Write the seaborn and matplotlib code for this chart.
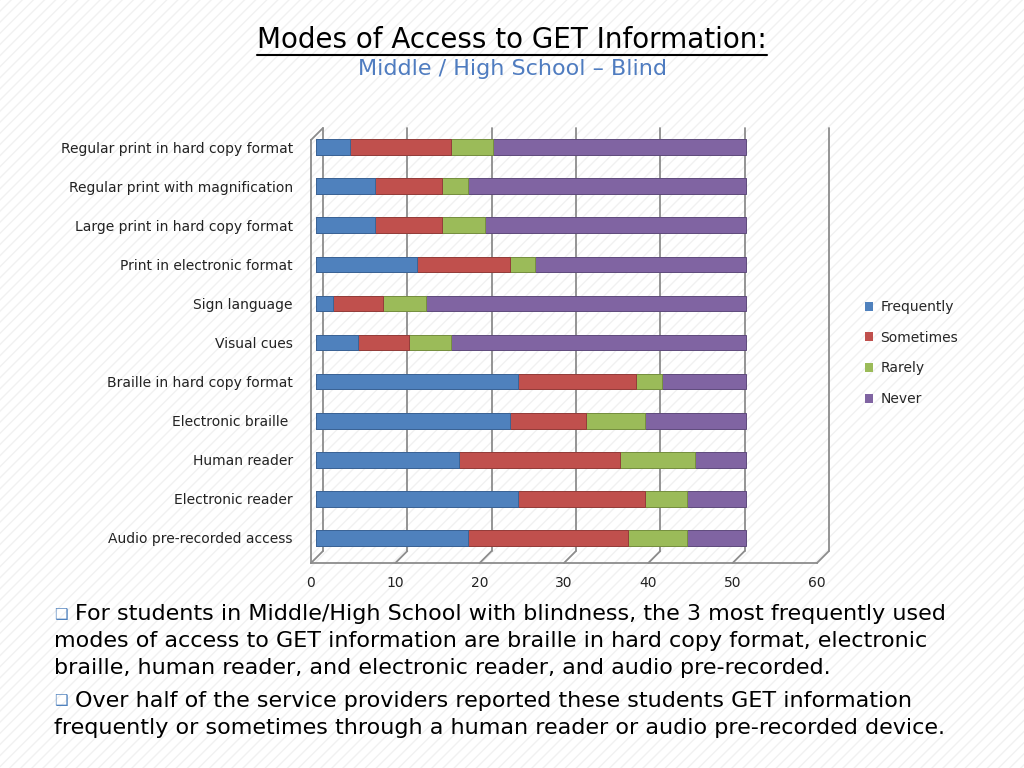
import numpy as np
import pandas as pd
import matplotlib
matplotlib.use('Agg')
import matplotlib.pyplot as plt
import seaborn as sns
from matplotlib.patches import Rectangle, Patch
from matplotlib.lines import Line2D
from matplotlib.transforms import ScaledTranslation, IdentityTransform

modes = ['Regular print in hard copy format', 'Regular print with magnification',
         'Large print in hard copy format', 'Print in electronic format',
         'Sign language', 'Visual cues', 'Braille in hard copy format',
         'Electronic braille ', 'Human reader', 'Electronic reader',
         'Audio pre-recorded access']
frequently = [4, 7, 7, 12, 2, 5, 24, 23, 17, 24, 18]
sometimes = [12, 8, 8, 11, 6, 6, 14, 9, 19, 15, 19]
rarely = [5, 3, 5, 3, 5, 5, 3, 7, 9, 5, 7]
never = [30, 33, 31, 25, 38, 35, 10, 12, 6, 7, 7]
levels = ['Frequently', 'Sometimes', 'Rarely', 'Never']
colors = ['#4F81BD', '#C0504D', '#9BBB59', '#8064A2']
edges = ['#3a6496', '#943c3a', '#76903f', '#5f4a7c']
x_ticks = [0, 10, 20, 30, 40, 50, 60]

df = pd.DataFrame({'mode': modes, 'Frequently': frequently, 'Sometimes': sometimes,
                   'Rarely': rarely, 'Never': never})
cum = df[levels].cumsum(axis=1)

sns.set_theme(style='white')
plt.rcParams['font.family'] = ['DejaVu Sans']

fig = plt.figure(figsize=(10.24, 7.68), dpi=100)
fig.patch.set_facecolor('white')
# faint diagonal stripes like the slide background
fig.patches.append(Rectangle((0, 0), 1, 1, transform=fig.transFigure, facecolor='white',
                             edgecolor='#f1f1f1', hatch='///', lw=0, zorder=-10))

ax = fig.add_axes([0.3037, 0.2669, 0.4941, 0.5671])
ax.set_facecolor('none')

# stacked bars: draw cumulative totals from the back
for lev, col, ec in reversed(list(zip(levels, colors, edges))):
    sns.barplot(x=cum[lev], y=df['mode'], color=col, saturation=1, orient='h',
                width=0.4, edgecolor=ec, linewidth=0.7, ax=ax, zorder=3)

# bars sit a little behind the front edge
mid = ScaledTranslation(5 / 100, 0, fig.dpi_scale_trans)
for p in ax.patches:
    p.set_transform(ax.transData + mid)
    p.set_clip_on(False)

ybot, ytop = 10.64, -0.18
ax.set_xlim(0, 60)
ax.set_ylim(ybot, -0.5)
ax.set_xticks(x_ticks)
ax.set_xticklabels([str(t) for t in x_ticks], fontsize=10, color='#222222')
ax.set_xlabel('')
ax.set_ylabel('')
ax.tick_params(axis='x', length=0, pad=9)
ax.tick_params(axis='y', which='major', length=0, pad=13, labelsize=10, labelcolor='#222222')
ax.set_yticks(np.arange(-0.5, 11, 1.0), minor=True)
ax.tick_params(axis='y', which='minor', length=5, width=1, color='#8c8c8c', direction='out')

for s in ['top', 'right']:
    ax.spines[s].set_visible(False)
for s in ['left', 'bottom']:
    ax.spines[s].set_color('#8c8c8c')
    ax.spines[s].set_linewidth(1.3)
ax.spines['left'].set_bounds(ybot, ytop)

# back wall grid (pseudo 3D)
back = ax.transData + ScaledTranslation(12 / 100, 12 / 100, fig.dpi_scale_trans)
for v in x_ticks:
    ax.plot([v, v], [ybot, ytop], transform=back, color='#8c8c8c', lw=1.3,
            zorder=0.5, clip_on=False)
    for yy in ([ybot] if v > 0 else [ybot, ytop]):
        p0 = ax.transData.transform((v, yy))
        fig.add_artist(Line2D([p0[0], p0[0] + 12], [p0[1], p0[1] + 12],
                              transform=IdentityTransform(), color='#8c8c8c', lw=1.3))

handles = [Patch(facecolor=c, edgecolor='none') for c in colors]
fig.legend(handles, levels, loc='upper left', bbox_to_anchor=(865 / 1024, 1 - 300 / 768),
           frameon=False, fontsize=10, handlelength=0.6, handleheight=0.6,
           handletextpad=0.5, labelspacing=1.2, borderpad=0, borderaxespad=0)

title = fig.text(0.5, 1 - 40 / 768, 'Modes of Access to GET Information:', ha='center',
                 va='center', fontsize=20, color='black')
fig.text(0.5, 1 - 69 / 768, 'Middle / High School \u2013 Blind', ha='center', va='center',
         fontsize=16, color='#4F7CC0')

notes = [(75, 614, 'For students in Middle/High School with blindness, the 3 most frequently used'),
         (54, 641, 'modes of access to GET information are braille in hard copy format, electronic'),
         (54, 668, 'braille, human reader, and electronic reader, and audio pre-recorded.'),
         (75, 701, 'Over half of the service providers reported these students GET information'),
         (54, 728, 'frequently or sometimes through a human reader or audio pre-recorded device.')]
for x, y, t in notes:
    fig.text(x / 1024, 1 - y / 768, t, ha='left', va='center', fontsize=16, color='black')
for y in [614, 701]:
    fig.text(61 / 1024, 1 - y / 768, '\u2751', ha='center', va='center', fontsize=11,
             color='#4F81BD')

# underline the title
fig.canvas.draw()
bb = title.get_window_extent()
fig.add_artist(Line2D([bb.x0, bb.x1], [bb.y0 - 1, bb.y0 - 1], transform=IdentityTransform(),
                      color='black', lw=1.5))

fig.savefig('out.png', dpi=100)
